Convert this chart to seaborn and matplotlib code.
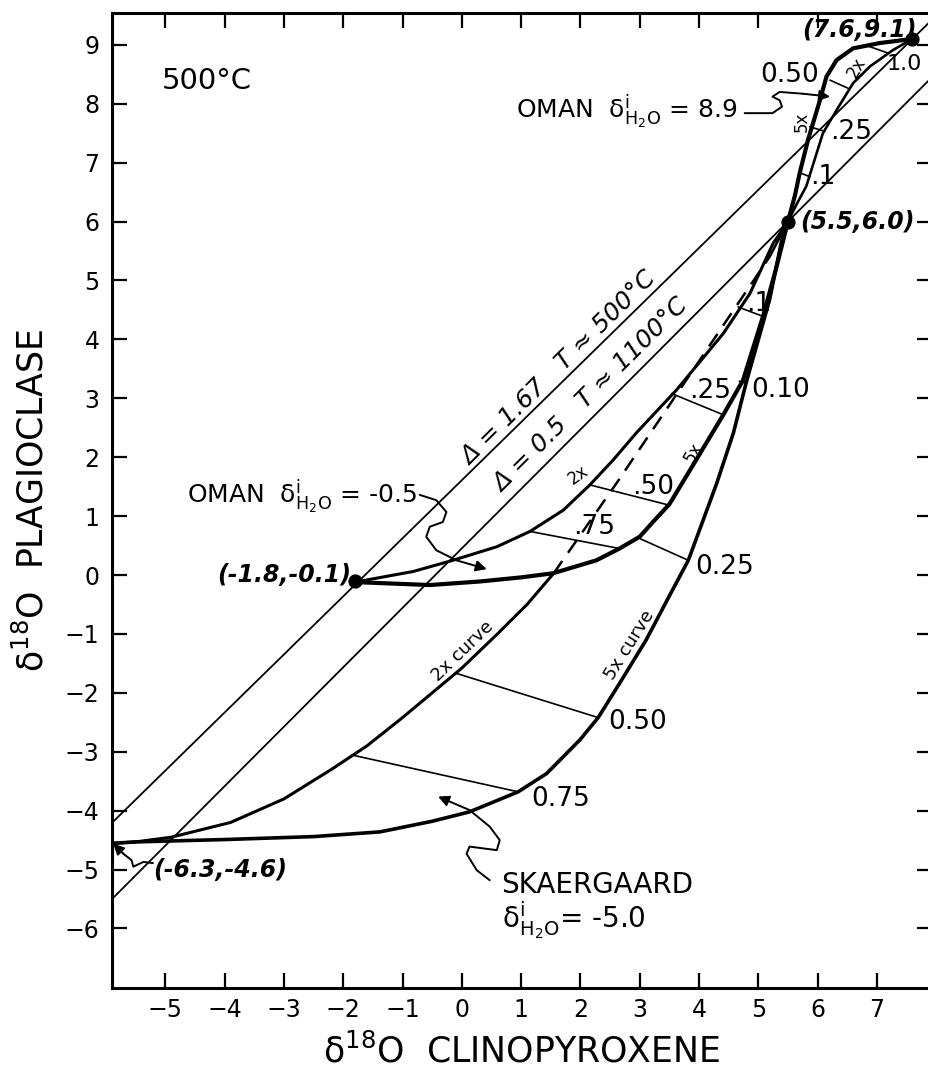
import matplotlib
matplotlib.use('Agg')
import matplotlib.pyplot as plt
import numpy as np
import pandas as pd
import seaborn as sns

# ---- values: x = d18O clinopyroxene, y = d18O plagioclase ----
# Skaergaard (d18O H2O = -5.0)
SKA_5X_X = [-6.3, -5.5, -4.0, -2.5, -1.38, -0.5, 0.13, 0.95, 1.43, 1.99, 2.30, 2.66, 3.11, 3.45,
            3.82, 4.07, 4.30, 4.58, 4.80, 5.19, 5.42, 5.5]
SKA_5X_Y = [-4.58, -4.53, -4.49, -4.44, -4.36, -4.18, -4.02, -3.68, -3.37, -2.80, -2.42, -1.84,
            -1.10, -0.45, 0.25, 0.93, 1.56, 2.41, 3.28, 4.67, 5.80, 6.0]
SKA_2X_X = [-6.3, -5.5, -4.9, -3.9, -3.0, -2.2, -1.6, -1.0, -0.5, 0.0, 0.6, 1.1, 1.55]
SKA_2X_Y = [-4.58, -4.53, -4.45, -4.2, -3.8, -3.3, -2.9, -2.42, -2.0, -1.58, -1.0, -0.5, 0.03]
SKA_2X_DASH_X = [1.55, 2.61, 5.19]
SKA_2X_DASH_Y = [0.03, 1.56, 5.40]
SKA_2X_TOP_X = [5.19, 5.5]
SKA_2X_TOP_Y = [5.40, 6.0]

# Oman (d18O H2O = -0.5)
OMAN_LO_5X_X = [-1.8, -0.54, 0.30, 1.0, 1.54, 2.27, 2.66, 3.0, 3.25, 3.5, 3.95, 4.41, 4.74, 5.08, 5.3, 5.5]
OMAN_LO_5X_Y = [-0.12, -0.17, -0.11, -0.04, 0.03, 0.25, 0.45, 0.65, 0.93, 1.2, 1.95, 2.72, 3.3, 4.39, 5.2, 6.0]
OMAN_LO_2X_X = [-1.8, -0.82, -0.15, 0.59, 1.15, 1.71, 2.16, 2.55, 2.95, 3.62, 4.41, 4.86, 5.25, 5.5]
OMAN_LO_2X_Y = [-0.12, 0.06, 0.25, 0.48, 0.74, 1.10, 1.53, 1.95, 2.42, 3.14, 4.10, 4.78, 5.63, 6.0]

# Oman (d18O H2O = 8.9)
OMAN_HI_5X_X = [5.5, 5.62, 5.70, 5.84, 6.04, 6.15, 6.32, 6.60, 7.05, 7.6]
OMAN_HI_5X_Y = [6.0, 6.45, 6.83, 7.39, 8.06, 8.46, 8.74, 8.94, 9.03, 9.1]
OMAN_HI_2X_X = [5.5, 5.65, 5.81, 6.09, 6.32, 6.60, 6.88, 7.27, 7.6]
OMAN_HI_2X_Y = [6.0, 6.3, 6.60, 7.50, 7.89, 8.35, 8.63, 8.91, 9.1]

# tie lines (x1, y1, x2, y2)
TIES = [
    (4.68, 3.29, 4.80, 3.26), (3.0, 0.62, 3.82, 0.25), (-0.09, -1.67, 2.30, -2.42), (-1.83, -3.06, 0.95, -3.68),
    (1.15, 0.74, 2.66, 0.45), (2.16, 1.53, 3.48, 1.19), (3.54, 3.08, 4.41, 2.72), (4.66, 4.55, 5.08, 4.39),
    (5.70, 6.83, 5.87, 6.76), (5.87, 7.61, 6.12, 7.53), (6.21, 8.40, 6.52, 8.26), (6.82, 8.99, 7.19, 8.86),
]

# fractionation lines: two points on each
D167_PTS = [(-6.3, -4.6), (7.6, 9.1)]
D05_PTS = [(-5.9, -5.5), (5.5, 6.0)]

DOT_X = [-6.3, -1.8, 5.5, 7.6]
DOT_Y = [-4.6, -0.1, 6.0, 9.1]

# squiggle arrows
SQ_HI_X = [4.77, 5.24, 5.40, 5.36, 5.24, 5.36, 5.75, 6.21]
SQ_HI_Y = [7.84, 7.84, 7.95, 8.06, 8.12, 8.20, 8.17, 8.12]
SQ_LO_X = [-0.71, -0.43, -0.26, -0.32, -0.54, -0.60, -0.43, -0.09, 0.42]
SQ_LO_Y = [1.36, 1.27, 1.07, 0.90, 0.82, 0.65, 0.42, 0.25, 0.10]
SQ_SKA_X = [0.47, 0.25, 0.08, 0.13, 0.59, 0.64, 0.47, 0.13, -0.40]
SQ_SKA_Y = [-5.18, -5.01, -4.73, -4.61, -4.67, -4.50, -4.27, -3.99, -3.76]
SQ_PT_X = [-5.21, -5.37, -5.54, -5.57, -5.71, -5.88]
SQ_PT_Y = [-4.89, -4.87, -4.95, -4.84, -4.73, -4.56]

XTICKS = list(range(-5, 8))
YTICKS = list(range(-6, 10))

sns.set_style('ticks')
plt.rcParams['font.family'] = ['DejaVu Sans']
plt.rcParams['mathtext.default'] = 'regular'
for k in ['text.color', 'axes.labelcolor', 'xtick.color', 'ytick.color', 'axes.edgecolor']:
    plt.rcParams[k] = 'black'

fig = plt.figure(figsize=(9.29, 10.81), dpi=100)
ax = fig.add_axes([112 / 929, 93 / 1081, 820 / 929, 975 / 1081])
ax.set_xlim(-5.9, 7.93)
ax.set_ylim(-7.01, 9.54)

# fractionation lines
ax.axline(D167_PTS[0], D167_PTS[1], color='black', lw=1.3)
ax.axline(D05_PTS[0], D05_PTS[1], color='black', lw=1.3)


def curve(xs, ys, lw, **kw):
    sns.lineplot(x=xs, y=ys, sort=False, estimator=None, color='black', lw=lw, ax=ax, **kw)


curve(SKA_5X_X, SKA_5X_Y, 2.6)
curve(SKA_2X_X, SKA_2X_Y, 2.2)
curve(SKA_2X_DASH_X, SKA_2X_DASH_Y, 1.8, linestyle=(0, (6, 4)))
curve(SKA_2X_TOP_X, SKA_2X_TOP_Y, 1.8)
curve(OMAN_LO_5X_X, OMAN_LO_5X_Y, 3.0)
curve(OMAN_LO_2X_X, OMAN_LO_2X_Y, 2.2)
curve(OMAN_HI_5X_X, OMAN_HI_5X_Y, 3.0)
curve(OMAN_HI_2X_X, OMAN_HI_2X_Y, 1.9)

tie_df = pd.DataFrame([(i, t[0], t[1]) for i, t in enumerate(TIES)] +
                      [(i, t[2], t[3]) for i, t in enumerate(TIES)], columns=['tie', 'x', 'y'])
sns.lineplot(data=tie_df, x='x', y='y', units='tie', estimator=None, sort=False,
             color='black', lw=1.2, ax=ax)

sns.scatterplot(x=DOT_X, y=DOT_Y, s=90, color='black', edgecolor='black', zorder=6, ax=ax)

# squiggly arrows
for sx, sy in [(SQ_HI_X, SQ_HI_Y), (SQ_LO_X, SQ_LO_Y), (SQ_SKA_X, SQ_SKA_Y), (SQ_PT_X, SQ_PT_Y)]:
    curve(sx[:-1], sy[:-1], 1.4)
    ax.annotate('', xy=(sx[-1], sy[-1]), xytext=(sx[-2], sy[-2]),
                arrowprops=dict(arrowstyle='-|>', color='black', lw=1.4, mutation_scale=16,
                                shrinkA=0, shrinkB=0))

# text on the figure
ax.text(-5.06, 8.39, '500°C', fontsize=21, ha='left', va='center')
ax.text(1.64, 3.51, 'Δ = 1.67   T ≈ 500°C', fontsize=18, style='italic', rotation=44.8,
        rotation_mode='anchor', ha='center', va='center')
ax.text(2.18, 3.06, 'Δ = 0.5   T ≈ 1100°C', fontsize=18, style='italic', rotation=44.8,
        rotation_mode='anchor', ha='center', va='center')

ax.text(4.65, 7.76, r'OMAN  $\delta^{i}_{H_2O}$ = 8.9', fontsize=18, ha='right', va='baseline')
ax.text(-0.76, 1.22, r'OMAN  $\delta^{i}_{H_2O}$ = -0.5', fontsize=18, ha='right', va='baseline')
ax.text(0.67, -5.40, 'SKAERGAARD', fontsize=20, ha='left', va='baseline')
ax.text(0.67, -5.99, r'$\delta^{i}_{H_2O}$= -5.0', fontsize=20, ha='left', va='baseline')

pt_kw = dict(fontsize=17, style='italic', fontweight='bold', va='center')
ax.text(-1.86, 0.0, '(-1.8,-0.1)', ha='right', **pt_kw)
ax.text(-5.21, -5.01, '(-6.3,-4.6)', ha='left', **pt_kw)
ax.text(5.70, 6.0, '(5.5,6.0)', ha='left', **pt_kw)
ax.text(7.67, 9.25, '(7.6,9.1)', ha='right', **pt_kw)

num_kw = dict(fontsize=19, ha='left', va='center')
for txt, x, y in [('0.10', 4.88, 3.14), ('0.25', 3.93, 0.14), ('0.50', 2.47, -2.50), ('0.75', 1.17, -3.80),
                  ('.50', 2.88, 1.49), ('.75', 1.87, 0.81), ('.25', 3.84, 3.12), ('.1', 4.80, 4.60),
                  ('.25', 6.21, 7.52), ('.1', 5.87, 6.76)]:
    ax.text(x, y, txt, **num_kw)
ax.text(6.02, 8.49, '0.50', fontsize=19, ha='right', va='center')
ax.text(7.16, 8.68, '1.0', fontsize=16, ha='left', va='center')

small_kw = dict(ha='center', va='center', rotation_mode='anchor')
for txt, x, y, rot, fs in [('2x', 1.96, 1.70, 35, 12), ('5x', 3.9, 2.07, 60, 12), ('2x curve', 0.02, -1.30, 44, 13),
                           ('5x curve', 2.83, -1.19, 58, 13), ('2x', 6.66, 8.62, 60, 12), ('5x', 5.73, 7.69, 90, 12)]:
    ax.text(x, y, txt, rotation=rot, fontsize=fs, **small_kw)

# axes, ticks
for side in ['left', 'right', 'top', 'bottom']:
    ax.spines[side].set_linewidth(2.2)
ax.set_xticks(XTICKS)
ax.set_yticks(YTICKS)
ax.set_xticklabels([str(t).replace('-', '−') for t in XTICKS])
ax.set_yticklabels([str(t).replace('-', '−') for t in YTICKS])
ax.tick_params(direction='in', length=11, width=1.6, labelsize=17, top=True, right=True)
ax.tick_params(axis='y', pad=9)
ax.tick_params(axis='x', pad=7)
ax.set_xlabel(r'$\delta^{18}$O  CLINOPYROXENE', fontsize=25, labelpad=8)
ax.set_ylabel(r'$\delta^{18}$O  PLAGIOCLASE', fontsize=25, labelpad=10)

fig.savefig('out.png', dpi=100)
